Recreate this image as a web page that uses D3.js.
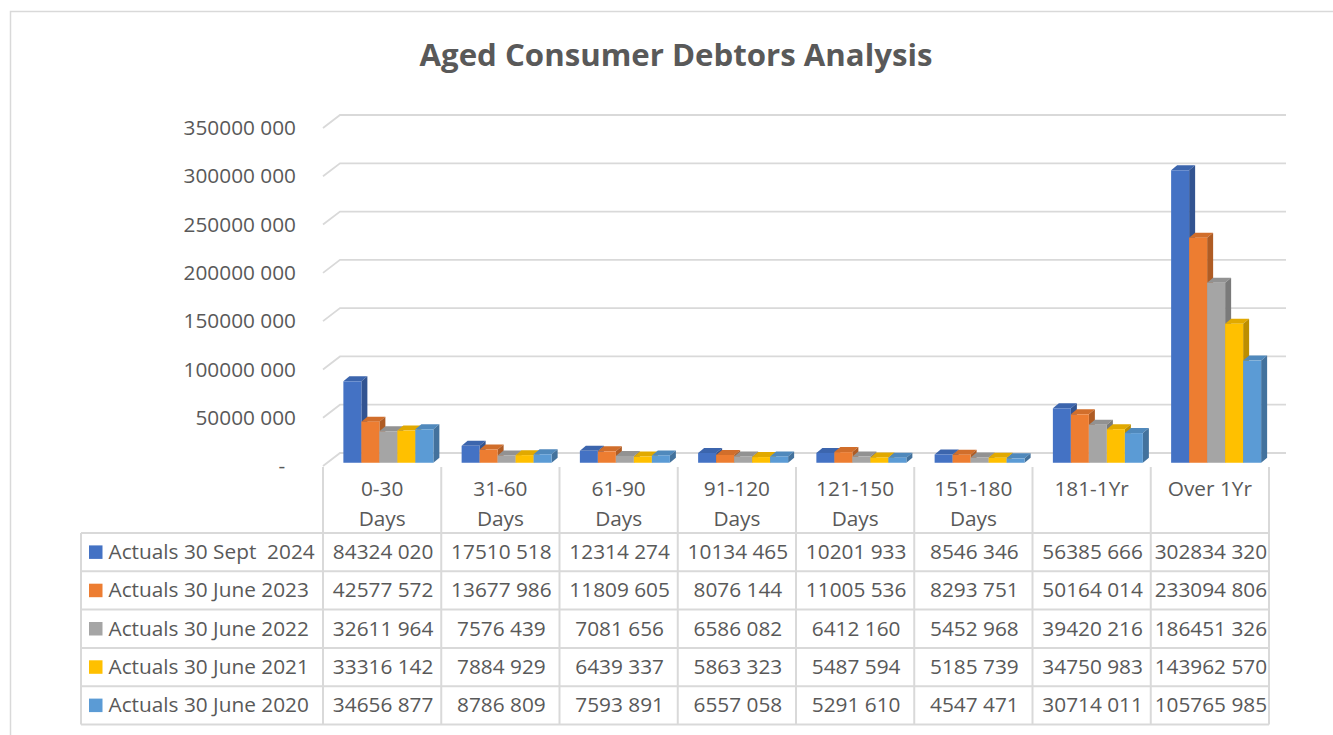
<!DOCTYPE html>
<html>
<head>
<meta charset="utf-8">
<script src="https://cdn.jsdelivr.net/npm/d3@7/dist/d3.min.js"></script>
<style>
  html, body { margin: 0; padding: 0; background: #fff; }
  svg { display: block; font-family: "Open Sans", Lato, sans-serif; }
  text { white-space: pre; }
</style>
</head>
<body>
<svg id="chart" width="1333" height="735"></svg>
<script>
// Aging buckets
const categories = ["0-30 Days", "31-60 Days", "61-90 Days", "91-120 Days",
                    "121-150 Days", "151-180 Days", "181-1Yr", "Over 1Yr"];

// Series names (one per reporting date)
const seriesNames = ["Actuals 30 Sept  2024", "Actuals 30 June 2023", "Actuals 30 June 2022",
                     "Actuals 30 June 2021", "Actuals 30 June 2020"];

const sept2024 = [84324020, 17510518, 12314274, 10134465, 10201933, 8546346, 56385666, 302834320];
const june2023 = [42577572, 13677986, 11809605, 8076144, 11005536, 8293751, 50164014, 233094806];
const june2022 = [32611964, 7576439, 7081656, 6586082, 6412160, 5452968, 39420216, 186451326];
const june2021 = [33316142, 7884929, 6439337, 5863323, 5487594, 5185739, 34750983, 143962570];
const june2020 = [34656877, 8786809, 7593891, 6557058, 5291610, 4547471, 30714011, 105765985];

const seriesValues = [sept2024, june2023, june2022, june2021, june2020];
const seriesColors = ["#4472C4", "#ED7D31", "#A5A5A5", "#FFC000", "#5B9BD5"];

const yTicks = [0, 50000000, 100000000, 150000000, 200000000, 250000000, 300000000, 350000000];

// "# ###" style: only the last thousands group is separated
function fmt(v) {
  if (v === 0) return "-\u00a0\u00a0";
  const hi = Math.floor(v / 1000);
  const lo = String(v % 1000).padStart(3, "0");
  return hi + " " + lo;
}

const svg = d3.select("#chart");
const textColor = "#595959";
const gridColor = "#D9D9D9";
const fontSize = 20.8;

// chart frame
svg.append("rect")
  .attr("x", 10.5).attr("y", 11.5).attr("width", 1340).attr("height", 760)
  .attr("fill", "#fff").attr("stroke", gridColor).attr("stroke-width", 1.5);

// title
svg.append("text")
  .attr("x", 676).attr("y", 66)
  .attr("text-anchor", "middle")
  .attr("font-size", 31.2).attr("font-weight", "bold")
  .attr("fill", textColor)
  .text("Aged Consumer Debtors Analysis");

// plot geometry: front plane plus oblique depth offset
const plotLeft = 323, plotRight = 1269;
const depthX = 17, depthY = -13;
const y = d3.scaleLinear().domain([0, 350000000]).range([466, 128]);
const x = d3.scaleBand().domain(categories).range([plotLeft, plotRight]);
const groupWidth = 90;
const inner = d3.scaleBand().domain(seriesNames).range([0, groupWidth]);

// gridlines with wall/floor diagonals
const grid = svg.append("g");
yTicks.forEach(t => {
  const yf = y(t);
  grid.append("path")
    .attr("d", `M${plotLeft},${yf}L${plotLeft + depthX},${yf + depthY}L${plotRight + depthX},${yf + depthY}`)
    .attr("fill", "none").attr("stroke", gridColor).attr("stroke-width", 1.8);
});

// y axis labels
const yAxis = d3.axisLeft(y).tickValues(yTicks).tickFormat(fmt).tickSize(0).tickPadding(0);
const yG = svg.append("g").attr("transform", "translate(296,0)").call(yAxis);
yG.select(".domain").remove();
yG.selectAll("text")
  .attr("font-size", fontSize).attr("fill", textColor)
  .attr("font-family", "'Open Sans', Lato, sans-serif");

// 3D bars: front face sits a quarter of the way into the depth
const barDX = depthX * 0.25 + 2, barDY = depthY * 0.25;
const sideX = 6, sideY = -5;
const bars = svg.append("g");
categories.forEach((cat, ci) => {
  const gx = x(cat) + (x.bandwidth() - groupWidth) / 2 + barDX;
  seriesNames.forEach((s, si) => {
    const v = seriesValues[si][ci];
    const l = gx + inner(s), r = l + inner.bandwidth();
    const top = y(v) + barDY, bottom = y(0) + barDY;
    const c = d3.color(seriesColors[si]);
    const g = bars.append("g");
    // top face
    g.append("path")
      .attr("d", `M${l},${top}L${l + sideX},${top + sideY}L${r + sideX},${top + sideY}L${r},${top}Z`)
      .attr("fill", c.darker(0.35));
    // side face
    g.append("path")
      .attr("d", `M${r},${top}L${r + sideX},${top + sideY}L${r + sideX},${bottom + sideY}L${r},${bottom}Z`)
      .attr("fill", c.darker(0.85));
    // front face
    g.append("rect")
      .attr("x", l).attr("y", top)
      .attr("width", r - l).attr("height", bottom - top)
      .attr("fill", c);
  });
});

// data table
const tableLeft = 81;
const headerTop = 467;
const rowTop = 533, rowH = 38.3;
const tableBottom = rowTop + rowH * seriesNames.length;
const table = svg.append("g");
const lineStyle = sel => sel.attr("stroke", gridColor).attr("stroke-width", 2);

// vertical lines between category columns (from the floor down)
const colEdges = categories.map(c => x(c)).concat([plotRight]);
colEdges.forEach(cx => {
  table.append("line").attr("x1", cx).attr("x2", cx)
    .attr("y1", headerTop).attr("y2", tableBottom).call(lineStyle);
});
// left edge of legend column
table.append("line").attr("x1", tableLeft).attr("x2", tableLeft)
  .attr("y1", rowTop).attr("y2", tableBottom).call(lineStyle);
// horizontal row lines
for (let i = 0; i <= seriesNames.length; i++) {
  const ry = rowTop + rowH * i;
  table.append("line").attr("x1", tableLeft).attr("x2", plotRight)
    .attr("y1", ry).attr("y2", ry).call(lineStyle);
}

// category labels, wrapped before "Days"
categories.forEach(cat => {
  const lines = cat.endsWith(" Days") ? [cat.slice(0, -5), "Days"] : [cat];
  const t = table.append("text")
    .attr("text-anchor", "middle").attr("font-size", fontSize).attr("fill", textColor);
  lines.forEach((ln, i) => {
    t.append("tspan").attr("x", x(cat) + x.bandwidth() / 2)
      .attr("y", 496 + i * 29.5).text(ln);
  });
});

// legend keys + series names + values
seriesNames.forEach((s, si) => {
  const cy = rowTop + rowH * si + rowH / 2;
  table.append("rect")
    .attr("x", 89).attr("y", cy - 6.75).attr("width", 13.5).attr("height", 13.5)
    .attr("fill", seriesColors[si]);
  table.append("text")
    .attr("x", 108.5).attr("y", cy + 7)
    .attr("font-size", fontSize).attr("fill", textColor)
    .text(s);
  categories.forEach((cat, ci) => {
    table.append("text")
      .attr("x", x(cat) + x.bandwidth() / 2 + 1).attr("y", cy + 7)
      .attr("text-anchor", "middle")
      .attr("font-size", fontSize).attr("fill", textColor)
      .text(fmt(seriesValues[si][ci]));
  });
});
</script>
</body>
</html>
